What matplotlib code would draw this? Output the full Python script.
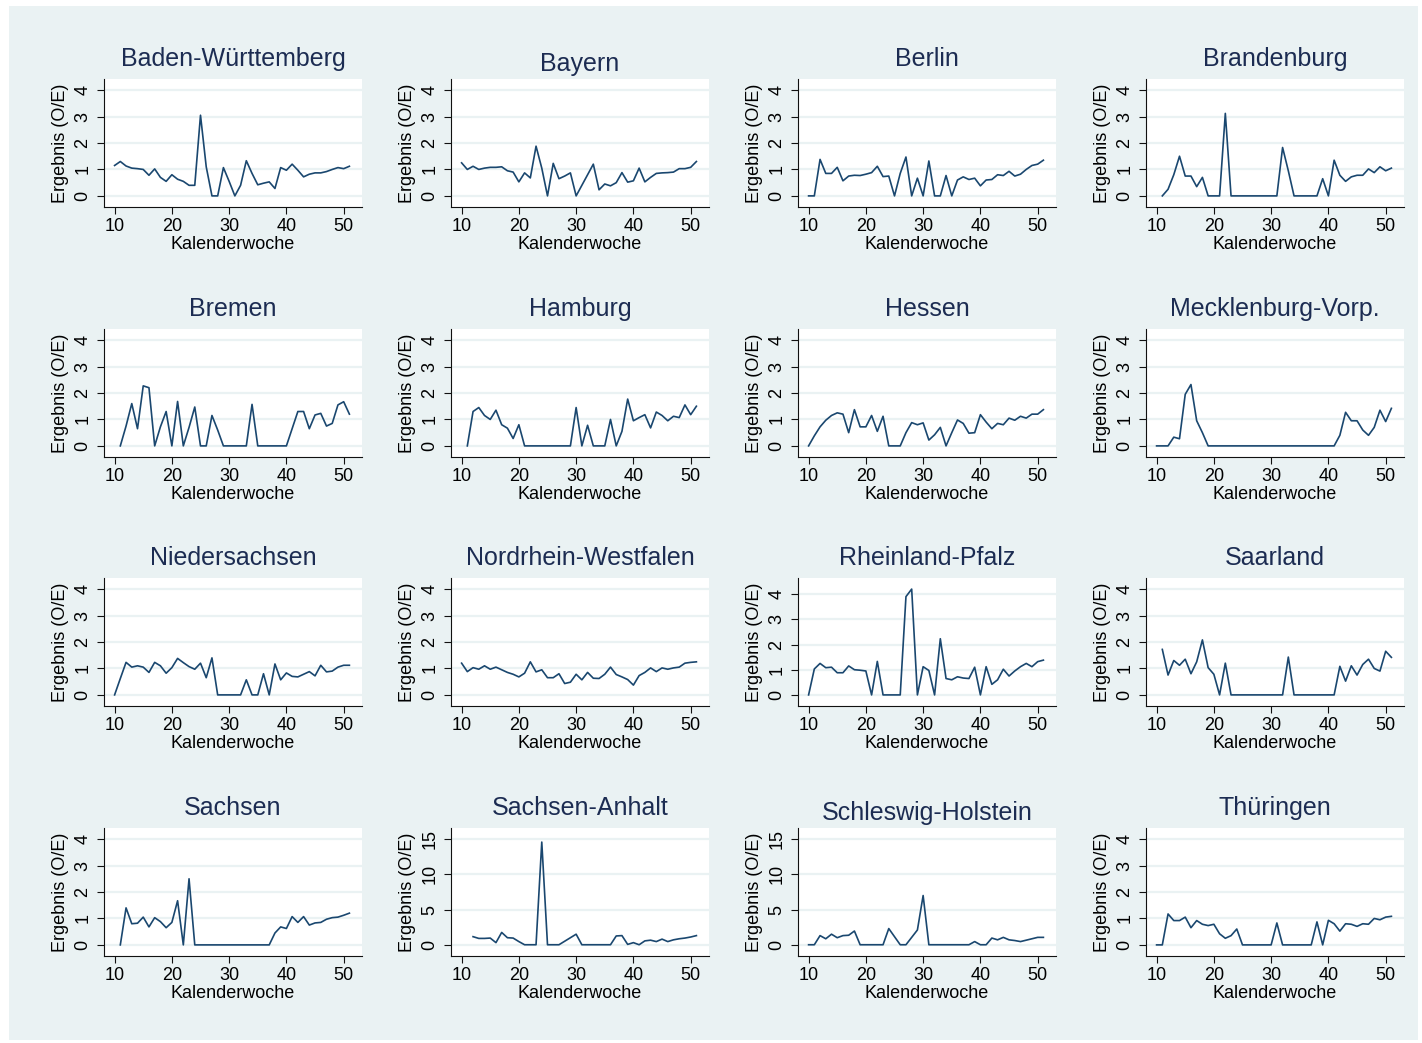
import matplotlib
matplotlib.use("Agg")
import matplotlib.pyplot as plt
from matplotlib.patches import Rectangle

plt.rcParams['font.family'] = ['Liberation Sans', 'DejaVu Sans']

# Werte je Bundesland (Ergebnis O/E), erste Kalenderwoche steht jeweils dabei
bw_start = 10
bw = [1.15, 1.3, 1.13, 1.05, 1.03, 1.0, 0.78, 1.02, 0.7, 0.55, 0.8, 0.63, 0.55, 0.4, 0.4,
      3.05, 1.1, 0, 0, 1.07, 0.55, 0, 0.4, 1.33, 0.85, 0.42, 0.48, 0.53, 0.28, 1.07, 0.97,
      1.2, 0.97, 0.72, 0.82, 0.87, 0.87, 0.92, 1.0, 1.07, 1.03, 1.12]
by_start = 10
by = [1.25, 1.0, 1.12, 1.0, 1.05, 1.08, 1.08, 1.1, 0.95, 0.9, 0.53, 0.87, 0.68, 1.88, 1.05,
      0, 1.23, 0.65, 0.75, 0.87, 0, 0.4, 0.8, 1.2, 0.23, 0.45, 0.38, 0.5, 0.88, 0.52, 0.57,
      1.05, 0.53, 0.7, 0.85, 0.87, 0.88, 0.9, 1.03, 1.03, 1.08, 1.3]
be_start = 10
be = [0, 0, 1.38, 0.85, 0.85, 1.08, 0.57, 0.75, 0.78, 0.77, 0.82, 0.88, 1.12, 0.73, 0.75,
      0, 0.85, 1.47, 0, 0.67, 0, 1.32, 0, 0, 0.77, 0, 0.6, 0.72, 0.62, 0.67, 0.38, 0.6,
      0.62, 0.8, 0.77, 0.93, 0.75, 0.82, 1.0, 1.15, 1.2, 1.35]
bb_start = 11
bb = [0, 0.25, 0.8, 1.5, 0.75, 0.75, 0.35, 0.7, 0, 0, 0, 3.12, 0, 0, 0, 0, 0, 0, 0, 0, 0,
      1.83, 0.95, 0, 0, 0, 0, 0, 0.65, 0, 1.35, 0.78, 0.55, 0.72, 0.78, 0.78, 1.02, 0.88,
      1.1, 0.95, 1.05]
hb_start = 11
hb = [0, 0.75, 1.6, 0.65, 2.27, 2.2, 0, 0.72, 1.3, 0, 1.68, 0, 0.7, 1.47, 0, 0, 1.15, 0.6,
      0, 0, 0, 0, 0, 1.57, 0, 0, 0, 0, 0, 0, 0.65, 1.3, 1.3, 0.65, 1.17, 1.23, 0.75, 0.85,
      1.55, 1.67, 1.2]
hh_start = 11
hh = [0, 1.3, 1.45, 1.15, 1.0, 1.35, 0.8, 0.67, 0.28, 0.8, 0, 0, 0, 0, 0, 0, 0, 0, 0,
      1.45, 0, 0.78, 0, 0, 0, 1.0, 0, 0.55, 1.77, 0.95, 1.07, 1.18, 0.68, 1.28, 1.15, 0.95,
      1.12, 1.07, 1.55, 1.18, 1.5]
he_start = 10
he = [0, 0.38, 0.72, 0.97, 1.15, 1.25, 1.2, 0.5, 1.37, 0.72, 0.72, 1.15, 0.55, 1.12, 0, 0,
      0, 0.5, 0.88, 0.8, 0.87, 0.22, 0.42, 0.7, 0, 0.5, 0.98, 0.85, 0.48, 0.5, 1.18, 0.9,
      0.65, 0.85, 0.8, 1.05, 0.97, 1.12, 1.05, 1.2, 1.2, 1.37]
mv_start = 10
mv = [0, 0, 0, 0.33, 0.27, 1.95, 2.32, 0.95, 0.5, 0, 0, 0, 0, 0, 0, 0, 0, 0, 0, 0, 0, 0,
      0, 0, 0, 0, 0, 0, 0, 0, 0, 0, 0.4, 1.27, 0.95, 0.95, 0.6, 0.4, 0.7, 1.35, 0.92, 1.42]
ni_start = 10
ni = [0, 0.62, 1.23, 1.05, 1.1, 1.05, 0.85, 1.23, 1.1, 0.82, 1.03, 1.38, 1.22, 1.07, 0.97,
      1.2, 0.65, 1.4, 0, 0, 0, 0, 0, 0.57, 0, 0, 0.8, 0, 1.17, 0.57, 0.83, 0.7, 0.68, 0.78,
      0.88, 0.72, 1.12, 0.87, 0.9, 1.05, 1.12, 1.12]
nw_start = 10
nw = [1.2, 0.88, 1.03, 0.97, 1.1, 0.97, 1.05, 0.95, 0.85, 0.78, 0.68, 0.82, 1.25, 0.87,
      0.95, 0.65, 0.65, 0.8, 0.43, 0.48, 0.78, 0.57, 0.85, 0.63, 0.62, 0.78, 1.05, 0.77,
      0.68, 0.58, 0.37, 0.73, 0.85, 1.02, 0.88, 1.02, 0.97, 1.02, 1.05, 1.2, 1.23, 1.25]
rp_start = 10
rp = [0, 1.03, 1.25, 1.08, 1.1, 0.88, 0.88, 1.15, 1.0, 0.98, 0.95, 0, 1.33, 0, 0, 0, 0,
      3.9, 4.2, 0, 1.12, 0.97, 0, 2.23, 0.65, 0.6, 0.72, 0.67, 0.65, 1.1, 0, 1.12, 0.42,
      0.6, 1.02, 0.75, 0.95, 1.12, 1.25, 1.12, 1.32, 1.38]
sl_start = 11
sl = [1.72, 0.75, 1.3, 1.12, 1.35, 0.8, 1.25, 2.08, 1.03, 0.78, 0, 1.2, 0, 0, 0, 0, 0, 0,
      0, 0, 0, 0, 1.43, 0, 0, 0, 0, 0, 0, 0, 0, 1.08, 0.52, 1.1, 0.75, 1.15, 1.35, 1.0,
      0.9, 1.65, 1.42]
sn_start = 11
sn = [0, 1.4, 0.8, 0.82, 1.05, 0.68, 1.03, 0.88, 0.65, 0.85, 1.67, 0, 2.5, 0, 0, 0, 0, 0,
      0, 0, 0, 0, 0, 0, 0, 0, 0, 0.45, 0.68, 0.62, 1.07, 0.85, 1.07, 0.75, 0.83, 0.85,
      0.97, 1.03, 1.05, 1.12, 1.2]
st_start = 12
st = [1.15, 0.9, 0.9, 0.95, 0.3, 1.75, 1.0, 0.95, 0.45, 0, 0, 0, 14.6, 0, 0, 0, 0.5, 1.0,
      1.5, 0, 0, 0, 0, 0, 0, 1.25, 1.3, 0.05, 0.3, 0, 0.55, 0.65, 0.45, 0.8, 0.45, 0.7,
      0.85, 0.95, 1.1, 1.3]
sh_start = 10
sh = [0, 0, 1.3, 0.85, 1.5, 1.0, 1.3, 1.35, 1.95, 0, 0, 0, 0, 0, 2.3, 1.15, 0, 0, 1.05,
      2.1, 7.0, 0, 0, 0, 0, 0, 0, 0, 0, 0.45, 0, 0, 0.95, 0.7, 1.05, 0.7, 0.6, 0.45, 0.65,
      0.85, 1.05, 1.05]
th_start = 10
th = [0, 0, 1.17, 0.92, 0.92, 1.05, 0.65, 0.92, 0.78, 0.73, 0.78, 0.42, 0.25, 0.35, 0.6,
      0, 0, 0, 0, 0, 0, 0.83, 0, 0, 0, 0, 0, 0, 0.87, 0, 0.93, 0.8, 0.52, 0.8, 0.78, 0.7,
      0.8, 0.78, 1.0, 0.95, 1.05, 1.08]

titles = ['Baden-Württemberg', 'Bayern', 'Berlin', 'Brandenburg',
          'Bremen', 'Hamburg', 'Hessen', 'Mecklenburg-Vorp.',
          'Niedersachsen', 'Nordrhein-Westfalen', 'Rheinland-Pfalz', 'Saarland',
          'Sachsen', 'Sachsen-Anhalt', 'Schleswig-Holstein', 'Thüringen']
series = [(bw_start, bw), (by_start, by), (be_start, be), (bb_start, bb),
          (hb_start, hb), (hh_start, hh), (he_start, he), (mv_start, mv),
          (ni_start, ni), (nw_start, nw), (rp_start, rp), (sl_start, sl),
          (sn_start, sn), (st_start, st), (sh_start, sh), (th_start, th)]
xticks = [10, 20, 30, 40, 50]

W, H = 1422, 1043
bg = '#eaf2f3'
navy = '#1a476f'
title_col = '#1c2c52'

fig = plt.figure(figsize=(W / 100, H / 100), dpi=100)
fig.patch.set_facecolor('white')
fig.patches.append(Rectangle((9 / W, 3 / H), 1409 / W, 1034 / H, transform=fig.transFigure,
                             facecolor=bg, edgecolor='none', zorder=-10))

lefts = [104, 451, 798, 1146]
tops = [79, 329, 578, 828]
pw, ph = 258, 128

for i, (name, (start, vals)) in enumerate(zip(titles, series)):
    r, c = divmod(i, 4)
    x0, y0 = lefts[c], tops[r]
    ax = fig.add_axes([x0 / W, 1 - (y0 + ph) / H, pw / W, ph / H])
    ax.set_zorder(1)
    ax.set_facecolor('white')
    weeks = list(range(start, start + len(vals)))
    ax.plot(weeks, vals, color=navy, lw=1.2, zorder=3)

    ymax = max(vals)
    if ymax > 5:
        yt = [0, 5, 10, 15]
        ax.set_ylim(-1.6, 16.6)
    elif ymax > 4:
        yt = [0, 1, 2, 3, 4]
        ax.set_ylim(-0.44, 4.64)
    else:
        yt = [0, 1, 2, 3, 4]
        ax.set_ylim(-0.42, 4.42)
    ax.set_xlim(8.15, 53.2)
    ax.set_yticks(yt)
    ax.set_xticks(xticks)
    for v in yt:
        ax.axhline(v, color=bg, lw=1.6, zorder=1)

    for s in ['top', 'right']:
        ax.spines[s].set_visible(False)
    for s in ['left', 'bottom']:
        ax.spines[s].set_color('#111111')
        ax.spines[s].set_linewidth(0.8)
    ax.tick_params(axis='both', direction='out', length=5, width=0.8,
                   color='#111111', labelsize=13, labelcolor='black')
    ax.tick_params(axis='y', labelrotation=90, pad=4)
    ax.tick_params(axis='x', pad=3)
    for lab in ax.get_yticklabels():
        lab.set_verticalalignment('center')

    ax.text(-0.17, 0.5, 'Ergebnis (O/E)', transform=ax.transAxes, rotation=90,
            ha='center', va='center', fontsize=13)
    ax.text(0.5, -0.29, 'Kalenderwoche', transform=ax.transAxes,
            ha='center', va='center', fontsize=13)

    shift = 5 if name in ('Bayern', 'Schleswig-Holstein') else 0
    fig.text((x0 + pw / 2) / W, 1 - (y0 - 13 + shift) / H, name,
             ha='center', va='baseline', fontsize=18, color=title_col)

fig.savefig('out.png', dpi=100, facecolor=fig.get_facecolor())
